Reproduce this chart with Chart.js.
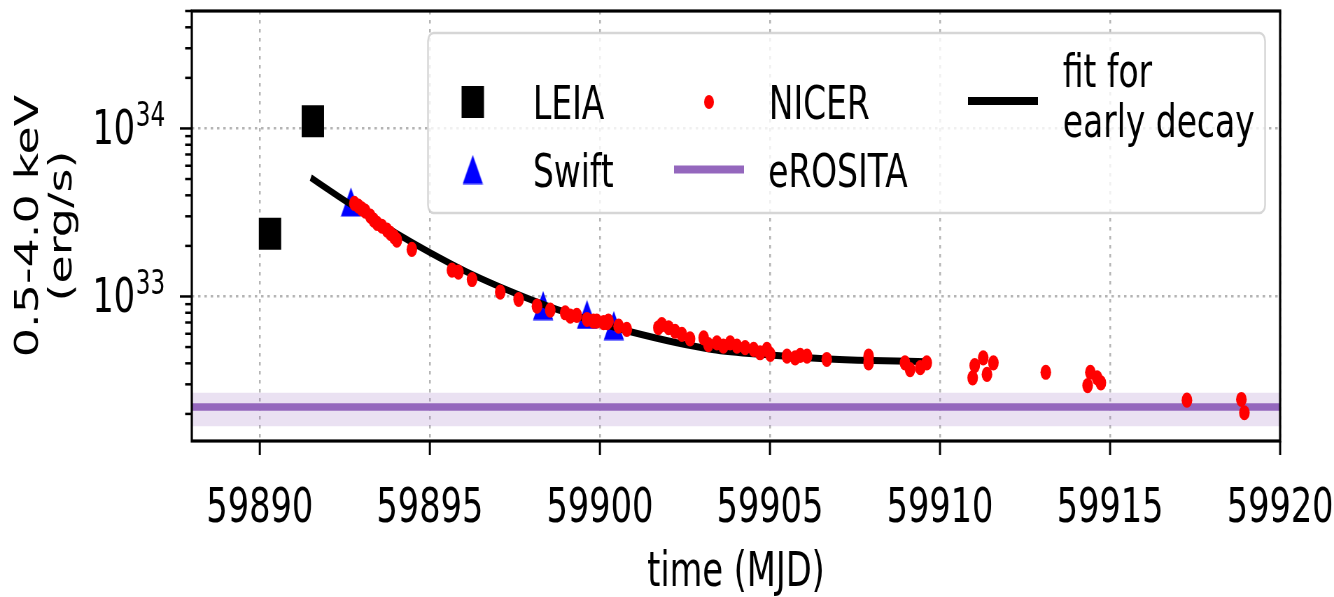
<!DOCTYPE html>
<html>
<head>
<meta charset="utf-8">
<title>light curve</title>
<script src="https://cdn.jsdelivr.net/npm/chart.js@4.4.1/dist/chart.umd.min.js"></script>
<style>
  html, body { margin: 0; padding: 0; background: #fff; overflow: hidden; }
  /* the original figure is squeezed sideways, so draw wide and squeeze */
  #wrap { width: 1906px; height: 597px; transform: scaleX(0.6999); transform-origin: 0 0; }
</style>
</head>
<body>
<div id="wrap"><canvas id="lightCurve" width="1906" height="597"></canvas></div>
<script>
// ================= data =================
const xTicks = [59890, 59895, 59900, 59905, 59910, 59915, 59920]
const yMajorTicks = [1e33, 1e34]
const yMajorExp = ['33', '34']
const yMinorTicks = [2e32, 3e32, 4e32, 5e32, 6e32, 7e32, 8e32, 9e32,
  2e33, 3e33, 4e33, 5e33, 6e33, 7e33, 8e33, 9e33, 2e34, 3e34, 4e34, 5e34]

// luminosities kept as log10(L), as read on the log axis
const leiaT = [59890.30, 59891.56]
const leiaLogL = [33.373, 34.043]

const swiftT = [59892.68, 59898.33, 59899.62, 59900.41]
const swiftLogL = [33.563, 32.946, 32.893, 32.827]

const nicerT = [59892.78, 59892.90, 59893.00, 59893.10, 59893.25, 59893.35, 59893.45, 59893.59,
  59893.74, 59893.84, 59893.95, 59894.03, 59894.47, 59895.65, 59895.84, 59896.24, 59897.07,
  59897.61, 59898.15, 59898.54, 59898.98, 59899.13, 59899.32, 59899.62, 59899.81, 59899.91,
  59900.11, 59900.21, 59900.25, 59900.55, 59900.79, 59901.72, 59901.82, 59902.02, 59902.21,
  59902.41, 59902.65, 59903.05, 59903.19, 59903.44, 59903.63, 59903.83, 59904.03, 59904.27,
  59904.52, 59904.71, 59904.91, 59905.01, 59905.50, 59905.74, 59905.89, 59906.09, 59906.67,
  59907.90, 59907.90, 59908.97, 59909.12, 59909.42, 59909.61, 59910.96, 59911.02, 59911.27,
  59911.38, 59911.57, 59913.11, 59914.34, 59914.42, 59914.62, 59914.73, 59917.26, 59918.86,
  59918.95]
const nicerLogL = [33.554, 33.538, 33.522, 33.508, 33.478, 33.454, 33.435, 33.418,
  33.395, 33.375, 33.355, 33.335, 33.280, 33.157, 33.145, 33.101, 33.026,
  32.982, 32.942, 32.919, 32.903, 32.883, 32.887, 32.863, 32.853, 32.853,
  32.844, 32.844, 32.853, 32.823, 32.804, 32.814, 32.833, 32.814, 32.793,
  32.774, 32.748, 32.754, 32.714, 32.724, 32.704, 32.724, 32.704, 32.695,
  32.685, 32.665, 32.685, 32.655, 32.645, 32.635, 32.649, 32.645, 32.625,
  32.645, 32.605, 32.605, 32.565, 32.576, 32.605, 32.516, 32.589, 32.635,
  32.536, 32.605, 32.549, 32.470, 32.549, 32.516, 32.486, 32.383, 32.387,
  32.308]

const fitT = [59891.5, 59892.3, 59893.0, 59894.0, 59895.0, 59896.2, 59897.8, 59899.0,
  59900.9, 59903.3, 59905.0, 59906.6, 59908.0, 59909.6]
const fitLogL = [33.707, 33.597, 33.505, 33.378, 33.262, 33.135, 32.995, 32.905,
  32.790, 32.685, 32.652, 32.630, 32.619, 32.612]

const erositaT = [59888, 59920]
const erositaL = 2.2e32
const erositaLow = 1.69e32
const erositaHigh = 2.67e32

const xTitle = 'time (MJD)'
const yTitle = ['0.5-4.0 keV', '(erg/s)']
// ================================================================

const FONT = 'DejaVu Sans'
const W = 1906
const PLOT_TOP = 11
const PLOT_LEFT = 274
const PLOT_RIGHT = 1829

const toPoints = (ts, logs) => ts.map((t, i) => ({ x: t, y: Math.pow(10, logs[i]) }))

// matplotlib style "^" marker: centred on its box
const triangle = document.createElement('canvas')
triangle.width = 30
triangle.height = 30
const tctx = triangle.getContext('2d')
tctx.fillStyle = '#0000ff'
tctx.beginPath()
tctx.moveTo(15, 0.5)
tctx.lineTo(29.5, 29.5)
tctx.lineTo(0.5, 29.5)
tctx.closePath()
tctx.fill()

// tick marks, exponent labels, frame
const axisDecor = {
  id: 'axisDecor',
  afterDatasetsDraw(chart) {
    const { ctx, chartArea: a, scales: { x, y } } = chart
    const seg = (x1, y1, x2, y2) => { ctx.beginPath(); ctx.moveTo(x1, y1); ctx.lineTo(x2, y2); ctx.stroke() }
    ctx.save()
    ctx.strokeStyle = '#000'
    ctx.lineWidth = 3
    xTicks.forEach(v => {
      const px = x.getPixelForValue(v)
      seg(px, a.bottom, px, a.bottom + 14)
    })
    ctx.lineWidth = 2.5
    yMinorTicks.forEach(v => {
      const py = y.getPixelForValue(v)
      seg(a.left - 9.5, py, a.left, py)
    })
    yMajorTicks.forEach((v, i) => {
      const py = y.getPixelForValue(v)
      seg(a.left - 17, py, a.left, py)
      // 10^n label
      ctx.fillStyle = '#000'
      ctx.textBaseline = 'alphabetic'
      ctx.font = '33px "' + FONT + '"'
      ctx.textAlign = 'left'
      ctx.fillText(yMajorExp[i], a.left - 80, py - 2)
      ctx.font = '48px "' + FONT + '"'
      ctx.textAlign = 'right'
      ctx.fillText('10', a.left - 81, py + 16)
    })
    ctx.lineWidth = 3.2
    ctx.strokeRect(a.left, a.top, a.right - a.left, a.bottom - a.top)
    ctx.restore()
  }
}

// legend box, 3 columns x 2 rows like the original
const legendBox = {
  id: 'legendBox',
  afterDraw(chart) {
    const ctx = chart.ctx
    const L = 611.5, T = 33, R = 1807.5, B = 213, r = 8
    const row1 = 102, row2 = 169.5
    ctx.save()
    ctx.beginPath()
    ctx.moveTo(L + r, T)
    ctx.arcTo(R, T, R, B, r)
    ctx.arcTo(R, B, L, B, r)
    ctx.arcTo(L, B, L, T, r)
    ctx.arcTo(L, T, R, T, r)
    ctx.closePath()
    ctx.fillStyle = 'rgba(255,255,255,0.8)'
    ctx.fill()
    ctx.strokeStyle = 'rgba(204,204,204,0.8)'
    ctx.lineWidth = 2.5
    ctx.stroke()

    // markers
    ctx.fillStyle = '#000'
    ctx.fillRect(L + 64 - 16, row1 - 16, 32, 32)
    ctx.drawImage(triangle, L + 64 - 15, row2 - 15)
    ctx.fillStyle = '#ff0000'
    ctx.beginPath()
    ctx.arc(L + 401.5, row1, 7, 0, Math.PI * 2)
    ctx.fill()
    ctx.lineWidth = 8
    ctx.strokeStyle = '#9467bd'
    ctx.beginPath(); ctx.moveTo(L + 351.5, row2); ctx.lineTo(L + 451.5, row2); ctx.stroke()
    ctx.strokeStyle = '#000'
    ctx.beginPath(); ctx.moveTo(L + 771.5, row1 - 1); ctx.lineTo(L + 871.5, row1 - 1); ctx.stroke()

    // texts
    ctx.fillStyle = '#000'
    ctx.font = '47px "' + FONT + '"'
    ctx.textAlign = 'left'
    ctx.textBaseline = 'alphabetic'
    ctx.fillText('LEIA', L + 150, 119)
    ctx.fillText('Swift', L + 150, 186.5)
    ctx.fillText('NICER', L + 487, 119)
    ctx.fillText('eROSITA', L + 486, 186.5)
    ctx.fillText('fit for', L + 907, 86.7)
    ctx.fillText('early decay', L + 907, 136.7)
    ctx.restore()
  }
}

const gridColor = '#b4b4b4'
const ctx = document.getElementById('lightCurve').getContext('2d')

const chart = new Chart(ctx, {
  type: 'scatter',
  data: {
    datasets: [
      {
        label: 'NICER',
        data: toPoints(nicerT, nicerLogL),
        pointStyle: 'circle',
        pointRadius: 7.6,
        pointBorderWidth: 0,
        backgroundColor: '#ff0000',
        borderColor: '#ff0000',
        order: 0
      },
      {
        label: 'LEIA',
        data: toPoints(leiaT, leiaLogL),
        pointStyle: 'rect',
        pointRadius: 22.6,
        pointBorderWidth: 0,
        backgroundColor: '#000',
        borderColor: '#000',
        order: 1
      },
      {
        label: 'fit for early decay',
        data: toPoints(fitT, fitLogL),
        showLine: true,
        borderColor: '#000',
        borderWidth: 7,
        pointRadius: 0,
        cubicInterpolationMode: 'monotone',
        order: 2
      },
      {
        label: 'Swift',
        data: toPoints(swiftT, swiftLogL),
        pointStyle: triangle,
        pointRadius: 15,
        order: 3
      },
      {
        label: 'eROSITA',
        data: erositaT.map(t => ({ x: t, y: erositaL })),
        showLine: true,
        borderColor: '#9467bd',
        borderWidth: 7.5,
        pointRadius: 0,
        order: 4
      },
      {
        label: 'eROSITA range',
        data: erositaT.map(t => ({ x: t, y: erositaHigh })),
        showLine: true,
        borderWidth: 0,
        pointRadius: 0,
        backgroundColor: 'rgba(148,103,189,0.2)',
        fill: { value: erositaLow },
        order: 5
      }
    ]
  },
  options: {
    responsive: false,
    animation: false,
    devicePixelRatio: 1,
    layout: {
      autoPadding: false, // big LEIA squares would otherwise push the plot box down
      padding: { left: 0, right: W - PLOT_RIGHT, top: PLOT_TOP, bottom: 0 }
    },
    plugins: {
      legend: { display: false },
      tooltip: { enabled: false }
    },
    scales: {
      x: {
        type: 'linear',
        min: 59888,
        max: 59920,
        afterBuildTicks: scale => { scale.ticks = xTicks.map(v => ({ value: v })) },
        afterFit: scale => {
          scale.height = 156
          scale.paddingLeft = 0
          scale.paddingRight = 0
        },
        ticks: {
          color: '#000',
          font: { family: FONT, size: 48 },
          padding: 40,
          maxRotation: 0,
          autoSkip: false,
          callback: v => String(v)
        },
        grid: { color: gridColor, lineWidth: 2.5, drawTicks: false },
        border: { display: false, dash: [3.5, 5.5] },
        title: {
          display: true,
          text: xTitle,
          color: '#000',
          font: { family: FONT, size: 48, lineHeight: '47px' },
          padding: { top: 0, bottom: 0 }
        }
      },
      y: {
        type: 'logarithmic',
        min: 1.38e32,
        max: 5.0e34,
        afterBuildTicks: scale => {
          scale.ticks = yMinorTicks.concat(yMajorTicks).sort((p, q) => p - q)
            .map(v => ({ value: v, major: yMajorTicks.includes(v) }))
        },
        afterFit: scale => {
          scale.width = PLOT_LEFT
          scale.paddingTop = 0
          scale.paddingBottom = 0
        },
        ticks: { display: false },
        grid: {
          color: c => (c.tick && yMajorTicks.includes(c.tick.value)) ? gridColor : 'rgba(0,0,0,0)',
          lineWidth: 2.5,
          drawTicks: false
        },
        border: { display: false, dash: [3.5, 5.5] },
        title: {
          display: true,
          text: yTitle,
          color: '#000',
          font: { family: FONT, size: 46, lineHeight: '48px' },
          padding: { top: 18, bottom: 0 }
        }
      }
    }
  },
  plugins: [axisDecor, legendBox]
})

// nudge the layout padding so the plot box lands where it is in the original
const area = chart.chartArea
const pad = chart.options.layout.padding
if (Math.abs(area.top - PLOT_TOP) > 0.5 || Math.abs(area.right - PLOT_RIGHT) > 0.5) {
  pad.top += PLOT_TOP - area.top
  pad.right += area.right - PLOT_RIGHT
  chart.update()
}
</script>
</body>
</html>
